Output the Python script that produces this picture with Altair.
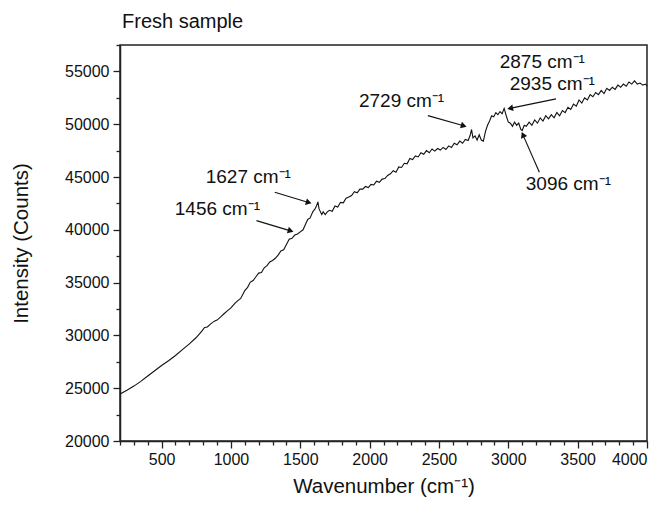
import math
import altair as alt
import pandas as pd

# ---- spectrum ----
wavenumber = [
    200, 250, 300, 350, 400, 450, 500, 550, 600, 650, 700, 750, 790, 810, 830, 850,
    880, 900, 930, 950, 980, 1000, 1030, 1050, 1070, 1090, 1100, 1120, 1140, 1160,
    1180, 1200, 1220, 1240, 1260, 1280, 1300, 1320, 1340, 1360, 1380, 1400, 1420,
    1440, 1460, 1480, 1500, 1520, 1540, 1555, 1570, 1590, 1605, 1615, 1627, 1635,
    1645, 1655, 1665, 1680, 1695, 1710,
    1730, 1750, 1770, 1790, 1810, 1830, 1850, 1870, 1890, 1910, 1930, 1950, 1970,
    1990, 2010, 2030, 2050, 2070, 2090, 2110, 2130, 2150, 2170, 2190, 2210, 2230,
    2250, 2270, 2290, 2310, 2330, 2350, 2370, 2390, 2410, 2430, 2450, 2470, 2490,
    2510, 2530, 2550, 2570, 2590, 2610, 2630, 2650, 2670, 2690, 2710, 2725, 2735,
    2745, 2760, 2775, 2790, 2805, 2820, 2835, 2850, 2865, 2880, 2895, 2910, 2925,
    2940, 2955, 2970, 2985, 3000, 3015, 3030, 3045, 3060, 3075, 3090, 3100, 3115,
    3130, 3150, 3170, 3190, 3210, 3230, 3250, 3270, 3290, 3310, 3330, 3350, 3370,
    3390, 3410, 3430, 3450, 3470, 3490, 3510, 3530, 3550, 3570, 3590, 3610, 3630,
    3650, 3670, 3690, 3710, 3730, 3750, 3770, 3790, 3810, 3830, 3850, 3870, 3890,
    3910, 3930, 3950, 3970, 3990, 4000,
]
intensity = [
    24450, 24800, 25200, 25650, 26150, 26650, 27150, 27600, 28100, 28650, 29200, 29800, 30400, 30750, 30800, 31050,
    31350, 31450, 31800, 32050, 32400, 32600, 33050, 33300, 33500, 34000, 34250, 34550, 35050, 35200,
    35550, 35900, 35950, 36400, 36600, 36950, 37100, 37300, 37600, 38000, 38100, 38600, 39100,
    39200, 39500, 39600, 39800, 40000, 40600, 41000, 41100, 41700, 41950, 42200, 42650, 42000,
    41700, 41450, 41700, 41450, 41700, 41850,
    41750, 42250, 42150, 42600, 42550, 43000, 43100, 43250, 43600, 43500, 43850, 43850, 44100,
    44000, 44300, 44250, 44600, 44500, 44800, 44850, 45150, 45300, 45600, 45450, 45950, 45900,
    46300, 46250, 46750, 46650, 47000, 46900, 47300, 47150, 47500, 47300, 47650, 47450, 47700,
    47550, 47800, 47600, 47950, 47800, 48200, 48050, 48400, 48200, 48550, 48450, 48950, 49500,
    48700, 48900, 48500, 49000, 48500, 48400, 49300, 49900, 50300, 50800, 50700, 51100, 50900,
    51200, 51000, 51500, 50800, 50200, 50100, 49800, 50200, 49900, 50100, 49500, 49400, 49900,
    49800, 50200, 49900, 50400, 50100, 50600, 50300, 50800, 50500, 50900, 50600, 51100, 50800,
    51300, 51100, 51600, 51400, 51900, 51700, 52300, 52000, 52500, 52300, 52800, 52600, 53000,
    52800, 53200, 52900, 53400, 53200, 53500, 53300, 53700, 53500, 53800, 53600, 54000, 53800,
    54100, 53800, 53900, 53700, 53800, 53600,
]

# ---- peak annotations ----
peak_labels = ["1456 cm⁻¹", "1627 cm⁻¹", "2729 cm⁻¹", "2875 cm⁻¹", "2935 cm⁻¹", "3096 cm⁻¹"]
label_x = [902, 1125, 2230, 3245, 3317, 3433]
label_y = [41990, 45010, 52240, 55900, 53820, 44350]

arrow_x1 = [1184, 1316, 2420, 3344, 3224]
arrow_y1 = [40870, 43560, 50810, 52400, 45450]
arrow_x2 = [1424, 1554, 2672, 3020, 3108]
arrow_y2 = [39920, 42610, 49870, 51520, 48920]

chart_title = ["Fresh sample"]

x_ticks = list(range(200, 4001, 100))
y_ticks = list(range(20000, 57501, 2500))

X_MIN, X_MAX = 200, 4000
Y_MIN, Y_MAX = 20000, 57500
W, H = 527, 396
FONT = "Liberation Sans"

spec = pd.DataFrame({"x": wavenumber, "y": intensity})
labels = pd.DataFrame({"x": label_x, "y": label_y, "t": peak_labels})
title_df = pd.DataFrame({"t": chart_title})

kx = W / (X_MAX - X_MIN)
ky = H / (Y_MAX - Y_MIN)
angles = []
for a, b, c, d in zip(arrow_x1, arrow_y1, arrow_x2, arrow_y2):
    dx = (c - a) * kx
    dy = -(d - b) * ky
    ang = math.degrees(math.atan2(dx, -dy)) % 360
    angles.append(ang)
arrows = pd.DataFrame({"x": arrow_x1, "y": arrow_y1, "x2": arrow_x2, "y2": arrow_y2, "angle": angles})

xscale = alt.Scale(domain=[X_MIN, X_MAX], nice=False, zero=False)
yscale = alt.Scale(domain=[Y_MIN, Y_MAX], nice=False, zero=False)

xaxis = alt.Axis(
    title="Wavenumber (cm⁻¹)", values=x_ticks, tickCount=200, format="d", labelOverlap=False,
    labelExpr="datum.value % 500 === 0 ? datum.label : ''",
    tickSize={"condition": {"test": "datum.value % 500 === 0", "value": 7}, "value": 4},
    grid=False, labelPadding=3, titlePadding=9,
)
yaxis = alt.Axis(
    title="Intensity (Counts)", values=y_ticks, tickCount=200, format="d", labelOverlap=False,
    labelExpr="datum.value % 5000 === 0 ? datum.label : ''",
    tickSize={"condition": {"test": "datum.value % 5000 === 0", "value": 7}, "value": 4},
    grid=False, labelPadding=4, titlePadding=33,
)

line = alt.Chart(spec).mark_line(color="#111111", strokeWidth=1.1).encode(
    x=alt.X("x:Q", scale=xscale, axis=xaxis),
    y=alt.Y("y:Q", scale=yscale, axis=yaxis),
)

text = alt.Chart(labels).mark_text(
    font=FONT, fontSize=19, color="#111111", align="center", baseline="middle"
).encode(x="x:Q", y="y:Q", text="t:N")

rules = alt.Chart(arrows).mark_rule(color="#111111", strokeWidth=1.1).encode(
    x="x:Q", y="y:Q", x2="x2:Q", y2="y2:Q"
)

heads = alt.Chart(arrows).mark_point(
    shape="triangle", filled=True, color="#111111", size=45, opacity=1
).encode(x="x2:Q", y="y2:Q", angle=alt.Angle("angle:Q", scale=None))

title_text = alt.Chart(title_df).mark_text(
    font=FONT, fontSize=20, color="#111111", align="left", baseline="alphabetic"
).encode(x=alt.value(2), y=alt.value(-17), text="t:N")

chart = alt.layer(line, rules, heads, text, title_text).properties(
    width=W, height=H,
    background="white",
    autosize=alt.AutoSizeParams(type="none"),
    padding={"left": 112, "top": 37, "right": 12, "bottom": 60},
).configure_view(
    stroke="#222222", strokeWidth=1.5
).configure_axis(
    labelFont=FONT, titleFont=FONT, labelFontSize=16, titleFontSize=20.5,
    labelColor="#111111", titleColor="#111111", titleFontWeight="normal",
    domainColor="#222222", domainWidth=1.5, tickColor="#222222", tickWidth=1.3,
)

chart.save("out.html", embed_options={"renderer": "svg", "actions": False})
